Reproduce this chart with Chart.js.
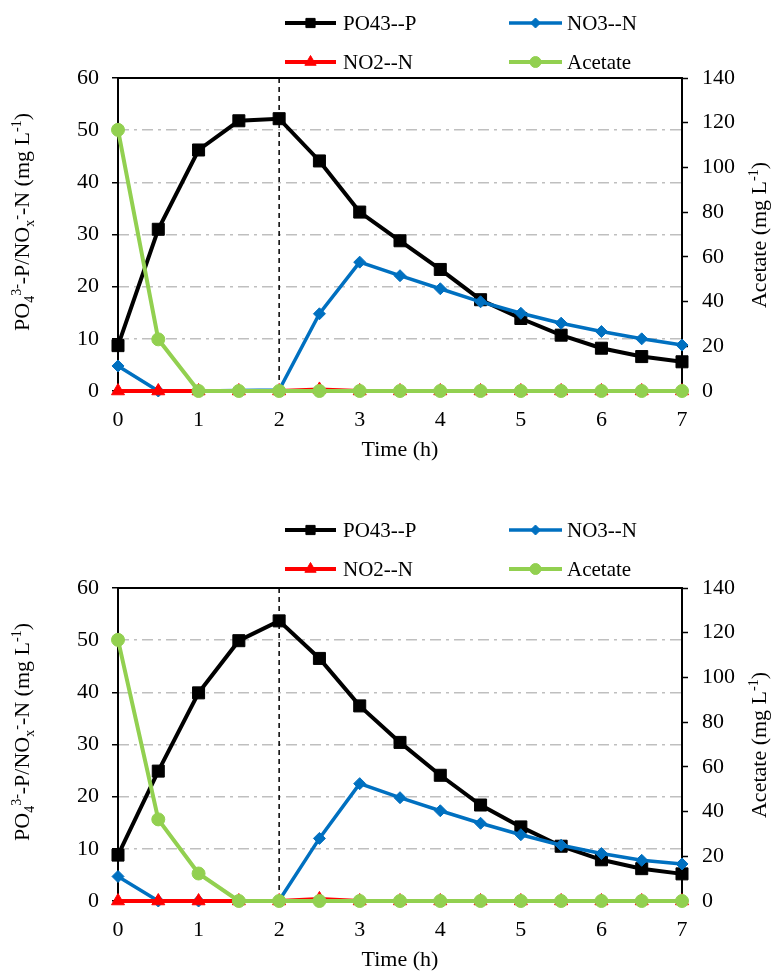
<!DOCTYPE html>
<html>
<head>
<meta charset="utf-8">
<title>PO4 / NOx / Acetate profiles</title>
<script src="https://cdn.jsdelivr.net/npm/chart.js@4.4.0/dist/chart.umd.min.js"></script>
<style>
    html, body { margin: 0; padding: 0; background: #fff; }
    #wrap { position: relative; width: 771px; height: 971px; }
    #wrap canvas { position: absolute; left: 0; }
    #chart-a { top: 0; }
    #chart-b { top: 510px; }
</style>
</head>
<body>
<div id="wrap">
    <canvas id="chart-a" width="771" height="510"></canvas>
    <canvas id="chart-b" width="771" height="461"></canvas>
</div>
<script>
// Axes
const TIME_H = [0, 0.5, 1, 1.5, 2, 2.5, 3, 3.5, 4, 4.5, 5, 5.5, 6, 6.5, 7];
const X_TICKS = [0, 1, 2, 3, 4, 5, 6, 7];
const LEFT_TICKS = [0, 10, 20, 30, 40, 50, 60];
const RIGHT_TICKS = [0, 20, 40, 60, 80, 100, 120, 140];
const SWITCH_TIME = 2;

const SERIES_NAMES = ['PO43--P', 'NO3--N', 'NO2--N', 'Acetate'];

// Upper panel
const PO4_A = [8.7, 31.0, 46.2, 51.8, 52.2, 44.1, 34.3, 28.8, 23.3, 17.5, 13.9, 10.7, 8.2, 6.6, 5.6];
const NO3_A = [4.8, 0, 0, 0.1, 0.2, 14.8, 24.7, 22.1, 19.6, 17.1, 14.9, 13.0, 11.4, 10.0, 8.8];
const NO2_A = [0, 0, 0, 0, 0, 0.3, 0, 0, 0, 0, 0, 0, 0, 0, 0];
const ACETATE_A = [116.8, 23.1, 0, 0, 0, 0, 0, 0, 0, 0, 0, 0, 0, 0, 0];

// Lower panel
const PO4_B = [8.8, 24.9, 39.9, 49.9, 53.7, 46.5, 37.4, 30.4, 24.1, 18.4, 14.2, 10.5, 7.9, 6.2, 5.2];
const NO3_B = [4.7, 0, 0, 0, 0.1, 12.0, 22.5, 19.8, 17.3, 14.9, 12.7, 10.7, 9.1, 7.8, 7.1];
const NO2_B = [0, 0, 0, 0, 0, 0.4, 0, 0, 0, 0, 0, 0, 0, 0, 0];
const ACETATE_B = [116.8, 36.5, 12.3, 0, 0, 0, 0, 0, 0, 0, 0, 0, 0, 0, 0];

const chartApp = (function () {
    const FONT = '"Liberation Serif", "Times New Roman", serif';
    const PLOT_TOP = 78;
    const PLOT_BOTTOM = 391;
    const PLOT_LEFT = 118;
    const PLOT_RIGHT = 682;

    const STYLES = [
        { color: '#000000', width: 4, point: 'rect', radius: 8.5, legendRadius: 6.5, order: 3, axis: 'y' },
        { color: '#0070C0', width: 3.5, point: 'rectRot', radius: 6, legendRadius: 5, order: 2, axis: 'y' },
        { color: '#FF0000', width: 4, point: 'triangle', radius: 7.5, legendRadius: 6.5, order: 1, axis: 'y' },
        { color: '#92D050', width: 4, point: 'circle', radius: 6.5, legendRadius: 5.5, order: 0, axis: 'y1' },
    ];

    /**
     * Draws a line of text made of normal, superscript and subscript pieces
     */
    function drawRichText(ctx, parts, x, y, angle) {
        ctx.save();
        ctx.translate(x, y);
        ctx.rotate(angle);
        ctx.textAlign = 'left';
        ctx.textBaseline = 'alphabetic';
        ctx.fillStyle = '#000';

        const fontOf = (p) => (p.shift ? '14px ' : '22px ') + FONT;
        let total = 0;
        parts.forEach((p) => {
            ctx.font = fontOf(p);
            total += ctx.measureText(p.text).width;
        });

        let cx = -total / 2;
        parts.forEach((p) => {
            ctx.font = fontOf(p);
            const dy = p.shift === 'sup' ? -8 : (p.shift === 'sub' ? 5 : 0);
            ctx.fillText(p.text, cx, dy);
            cx += ctx.measureText(p.text).width;
        });
        ctx.restore();
    }

    /**
     * Frame of the plot area and the dashed line at the aeration switch
     */
    const framePlugin = {
        id: 'frame',
        beforeDatasetsDraw(chart) {
            const { ctx, chartArea } = chart;
            const xPos = chart.scales.x.getPixelForValue(SWITCH_TIME);

            ctx.save();
            ctx.strokeStyle = '#000';
            ctx.lineWidth = 1.5;
            ctx.setLineDash([5, 4]);
            ctx.beginPath();
            ctx.moveTo(xPos, chartArea.top);
            ctx.lineTo(xPos, chartArea.bottom);
            ctx.stroke();

            ctx.setLineDash([]);
            ctx.lineWidth = 2;
            ctx.strokeRect(chartArea.left, chartArea.top, chartArea.right - chartArea.left, chartArea.bottom - chartArea.top);
            ctx.restore();
        }
    };

    /**
     * Legend (two rows, two columns) and axis titles
     */
    function makeAnnotationPlugin(legendTop) {
        return {
            id: 'annotations',
            afterDraw(chart) {
                const { ctx } = chart;
                const row1 = legendTop;
                const row2 = legendTop + 39;
                const slots = [
                    { x1: 285, x2: 336, tx: 343, y: row1 },
                    { x1: 509, x2: 562, tx: 567, y: row1 },
                    { x1: 285, x2: 336, tx: 343, y: row2 },
                    { x1: 509, x2: 562, tx: 567, y: row2 },
                ];

                ctx.save();
                chart.data.datasets.forEach((ds, i) => {
                    const s = slots[i];
                    const st = STYLES[i];
                    ctx.strokeStyle = st.color;
                    ctx.fillStyle = st.color;
                    ctx.lineWidth = st.width;
                    ctx.beginPath();
                    ctx.moveTo(s.x1, s.y);
                    ctx.lineTo(s.x2, s.y);
                    ctx.stroke();

                    ctx.lineWidth = 1;
                    Chart.helpers.drawPoint(ctx, {
                        pointStyle: st.point,
                        radius: st.legendRadius,
                        rotation: 0,
                        borderWidth: 1,
                    }, (s.x1 + s.x2) / 2, s.y);

                    ctx.fillStyle = '#000';
                    ctx.font = '21px ' + FONT;
                    ctx.textAlign = 'left';
                    ctx.textBaseline = 'middle';
                    ctx.fillText(ds.label, s.tx, s.y + 1);
                });

                // Axis titles
                ctx.font = '22px ' + FONT;
                ctx.textAlign = 'center';
                ctx.textBaseline = 'middle';
                ctx.fillStyle = '#000';
                ctx.fillText('Time (h)', (PLOT_LEFT + PLOT_RIGHT) / 2, 450);
                ctx.restore();

                drawRichText(ctx, [
                    { text: 'PO' },
                    { text: '4', shift: 'sub' },
                    { text: '3-', shift: 'sup' },
                    { text: '-P/NO' },
                    { text: 'x', shift: 'sub' },
                    { text: '-', shift: 'sup' },
                    { text: '-N (mg L' },
                    { text: '-1', shift: 'sup' },
                    { text: ')' },
                ], 29, 222, -Math.PI / 2);

                drawRichText(ctx, [
                    { text: 'Acetate (mg L' },
                    { text: '-1', shift: 'sup' },
                    { text: ')' },
                ], 766, 235, -Math.PI / 2);
            }
        };
    }

    function toPoints(values) {
        return TIME_H.map((t, i) => ({ x: t, y: values[i] }));
    }

    function fixedTicks(list) {
        return function (scale) {
            scale.ticks = list.map((v) => ({ value: v }));
        };
    }

    /**
     * Builds one panel
     */
    function createPanel(canvas, seriesValues, legendTop) {
        const datasets = seriesValues.map((values, i) => {
            const st = STYLES[i];
            return {
                label: SERIES_NAMES[i],
                data: toPoints(values),
                yAxisID: st.axis,
                order: st.order,
                borderColor: st.color,
                backgroundColor: st.color,
                borderWidth: st.width,
                pointStyle: st.point,
                pointRadius: st.radius,
                pointBorderWidth: 1,
                pointBackgroundColor: st.color,
                pointBorderColor: st.color,
                tension: 0,
                clip: false,
            };
        });

        const tickFont = { family: FONT, size: 22 };

        return new Chart(canvas, {
            type: 'line',
            data: { datasets: datasets },
            options: {
                responsive: false,
                animation: false,
                devicePixelRatio: 1,
                layout: { padding: { top: PLOT_TOP, left: 0, right: 0, bottom: 0 } },
                plugins: {
                    legend: { display: false },
                    tooltip: { enabled: false },
                },
                scales: {
                    x: {
                        type: 'linear',
                        min: 0,
                        max: 7,
                        afterBuildTicks: fixedTicks(X_TICKS),
                        afterFit: (scale) => { scale.height = canvas.height - PLOT_BOTTOM; },
                        grid: { display: false, drawTicks: false },
                        border: { display: false },
                        ticks: { font: tickFont, color: '#000', padding: 16, maxRotation: 0 },
                    },
                    y: {
                        position: 'left',
                        min: 0,
                        max: 60,
                        afterBuildTicks: fixedTicks(LEFT_TICKS),
                        afterFit: (scale) => { scale.width = PLOT_LEFT; },
                        grid: {
                            color: '#BFBFBF',
                            lineWidth: 1.5,
                            drawTicks: true,
                            tickLength: 6,
                            tickColor: '#000',
                            tickWidth: 1.5,
                        },
                        border: { display: false, dash: [11, 5, 3, 5] },
                        ticks: { font: tickFont, color: '#000', padding: 13 },
                    },
                    y1: {
                        position: 'right',
                        min: 0,
                        max: 140,
                        afterBuildTicks: fixedTicks(RIGHT_TICKS),
                        afterFit: (scale) => { scale.width = canvas.width - PLOT_RIGHT; },
                        grid: {
                            drawOnChartArea: false,
                            drawTicks: true,
                            tickLength: 6,
                            tickColor: '#000',
                            tickWidth: 1.5,
                        },
                        border: { display: false },
                        ticks: { font: tickFont, color: '#000', padding: 14 },
                    },
                },
            },
            plugins: [framePlugin, makeAnnotationPlugin(legendTop)],
        });
    }

    function init() {
        createPanel(document.getElementById('chart-a'), [PO4_A, NO3_A, NO2_A, ACETATE_A], 23);
        createPanel(document.getElementById('chart-b'), [PO4_B, NO3_B, NO2_B, ACETATE_B], 20);
    }

    return { init: init };
})();

chartApp.init();
</script>
</body>
</html>
